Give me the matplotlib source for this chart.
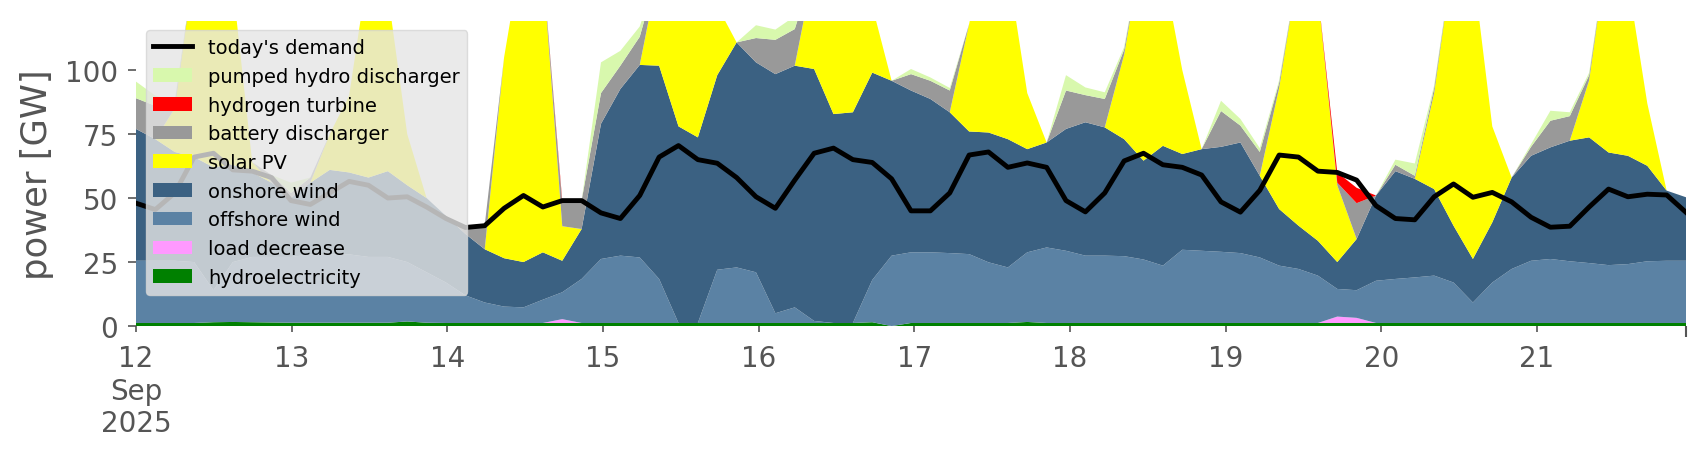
import matplotlib.pyplot as plt
import numpy as np
import pandas as pd

# 81 snapshots, roughly every 3 hours, 12 Sep 00:00 .. 21 Sep 23:00
times = pd.date_range("2025-09-12 00:00", "2025-09-21 23:00", periods=81)

demand = [48, 45.5, 52, 66, 67.5, 61, 60.5, 58, 49, 47.5,
          52, 56.5, 55, 50, 50.5, 46.5, 42, 38.5, 39.2, 46,
          51, 46.5, 49, 49, 44.2, 42, 51, 66, 70.5, 65,
          63.6, 58, 50.5, 46, 57, 67.5, 69.5, 65, 63.9, 57.5,
          45, 45, 52, 66.8, 68, 62, 63.7, 62, 49, 44.6,
          52, 64.5, 67.5, 63, 62, 59, 48.5, 44.5, 53, 66.8,
          66, 60.5, 60, 57, 47, 42, 41.5, 50.5, 55.5, 50.3,
          52.2, 48.5, 42.5, 38.6, 39, 46.5, 53.5, 50.5, 51.5, 51.2,
          44.4]

hydro = [1.2, 1.2, 1.2, 1.2, 1.5, 1.6, 1.5, 1.4, 1.3, 1.3,
         1.3, 1.3, 1.3, 1.3, 1.8, 1.3, 1.2, 1.2, 1.2, 1.2,
         1.2, 1.2, 1.2, 1.2, 1.2, 1.2, 1.2, 1.2, 1.2, 1.2,
         1.2, 1.2, 1.2, 1.2, 1.2, 1.2, 1.2, 1.2, 1.5, 0,
         1.2, 1.2, 1.2, 1.2, 1.2, 1.2, 1.6, 1.2, 1.2, 1.2,
         1.2, 1.2, 1.2, 1.2, 1.2, 1.2, 1.2, 1.2, 1.2, 1.2,
         1.2, 1.2, 1.2, 1.2, 1.2, 1.2, 1.2, 1.2, 1.2, 1.2,
         1.2, 1.2, 1.2, 1.2, 1.2, 1.2, 1.2, 1.2, 1.2, 1.2,
         1.2]

load_decrease = [0] * 22 + [1.5] + [0] * 39 + [2.5, 2.0] + [0] * 17

offshore = [24.3, 24.3, 24.3, 23.8, 12.5, 23.4, 25.5, 25.6, 25.7, 26.7,
            26.7, 26.7, 25.7, 25.7, 23.2, 19.7, 15.8, 10.8, 8.0, 6.4,
            6.1, 9.1, 10.5, 17.2, 25.0, 26.3, 25.6, 17.2, 0, 0,
            20.8, 21.7, 19.8, 3.8, 6.1, 0.8, 0, 0, 16.5, 27.5,
            27.6, 27.6, 27.3, 26.9, 23.7, 21.7, 27.2, 29.5, 28.2, 26.3,
            26.3, 26.1, 24.8, 22.4, 28.6, 28.2, 27.8, 27.3, 25.6, 22.4,
            21.1, 18.5, 10.8, 10.8, 16.5, 17.2, 17.8, 18.5, 15.8, 8.0,
            15.8, 21.1, 24.3, 25.0, 24.1, 23.4, 22.6, 23.0, 24.1, 24.3,
            24.3]

onshore = [51.5, 47.5, 42.5, 41, 48, 38, 33, 29, 23, 28,
           33, 32, 31, 33.5, 30, 29, 26, 24, 20.8, 18.9,
           17.7, 18.5, 12.3, 19.5, 52.8, 65.1, 75.2, 83.3, 76.8, 72.5,
           76, 87.9, 82, 93.4, 94.4, 98.4, 81.6, 82.3, 81, 68.3,
           63.2, 59.9, 55, 47.9, 50.7, 50.1, 40.3, 41, 47.6, 52.1,
           50.1, 45.7, 38.6, 46.8, 37.4, 39.7, 41, 43.2, 31.9, 22.1,
           16.9, 13.6, 10.5, 20, 33.3, 42.1, 38.5, 33.8, 22.2, 17,
           23.5, 35.7, 41, 43.6, 47.1, 49.1, 44, 42.3, 37.3, 27.4,
           24.8]

solar = [0, 0, 17, 74, 88, 70, 4, 0, 0, 0,
         14, 30, 82, 69.5, 20, 0, 0, 0, 0, 78.5,
         125, 111.2, 13.5, 0, 0, 0, 0, 38.3, 72, 71.3,
         27, 0, 0, 0, 0, 39.6, 67.2, 56.5, 26, 0,
         0, 0, 0, 42, 79.4, 67, 21.9, 0, 0, 0,
         0, 33, 85.4, 69.6, 32.8, 0, 0, 0, 0, 47.3,
         100.8, 96.7, 30, 0, 0, 0, 0, 37.5, 105.8, 113.8,
         37.5, 0, 0, 0, 0, 22.3, 82.2, 68.5, 24.4, 0,
         0]

battery = [12, 13, 2, 0, 0, 0, 0, 3, 2, 2,
           0, 0, 0, 0, 0, 0, 0, 2.5, 9.5, 0,
           0, 0, 9, 11.1, 12, 9.1, 11, 0, 0, 0,
           0, 0, 9.5, 13.4, 14.3, 0, 0, 0, 0, 0,
           6.4, 7.1, 8.5, 0, 0, 0, 0, 0, 15, 10.6,
           11.1, 2, 0, 0, 0, 0, 14, 6.6, 9.3, 2,
           0, 0, 1, 14, 0, 2.5, 1.2, 2, 0, 0,
           0, 0, 3.5, 10.4, 9.6, 2, 0, 0, 0, 0,
           0]

hydrogen = [0] * 22 + [1] + [0] * 39 + [4, 6] + [0] * 17

pumped_hydro = [6.5, 4, 1, 0, 0, 0, 0, 0, 4, 0,
                0, 0, 0, 0, 0, 0, 0, 0, 0, 0,
                0, 0, 0, 0, 12, 5.8, 4, 0, 0, 0,
                0, 0, 5, 4, 5, 0, 0, 0, 0, 0,
                2, 1.3, 1, 0, 0, 0, 0, 0, 6, 3,
                2.6, 1, 0, 0, 0, 0, 4, 2.6, 1.5, 1,
                0, 0, 0, 0, 0, 2, 4.8, 1, 0, 0,
                0, 0, 1, 3.9, 1.5, 1, 0, 0, 0, 0,
                0]

carriers = ["hydroelectricity", "load decrease", "offshore wind", "onshore wind",
            "solar PV", "battery discharger", "hydrogen turbine",
            "pumped hydro discharger"]
colors = ["#008000", "#ff99ff", "#5b82a4", "#3b6182",
          "#ffff00", "#999999", "#ff0000", "#d8f8ad"]

grey = "#555555"

fig, ax = plt.subplots(figsize=(17.06, 4.6), dpi=100)
fig.subplots_adjust(left=0.0797, right=0.9883, bottom=0.289, top=0.953)

ax.stackplot(times, hydro, load_decrease, offshore, onshore, solar, battery,
             hydrogen, pumped_hydro, colors=colors, labels=carriers, linewidth=0)
ax.plot(times, demand, color="black", lw=3.5, label="today's demand")

ax.set_xlim(times[0], times[-1])
ax.set_ylim(0, 119.3)

days = pd.date_range("2025-09-12", "2025-09-21", freq="D")
ax.set_xticks(days)
ax.set_xticklabels(["12\nSep\n2025"] + [str(d.day) for d in days[1:]])
ax.set_xticks([times[-1]], minor=True)
ax.set_yticks([0, 25, 50, 75, 100])

for s in ax.spines.values():
    s.set_visible(False)
ax.tick_params(axis="both", labelsize=20, colors=grey, labelcolor=grey, width=1.2)
ax.tick_params(axis="y", length=6, pad=7)
ax.tick_params(axis="x", which="major", length=4, pad=9)
ax.tick_params(axis="x", which="minor", length=8, width=1.5, color=grey)
ax.set_ylabel("power [GW]", fontsize=25.5, color=grey, labelpad=8)

handles, labels = ax.get_legend_handles_labels()
order = [8, 7, 6, 5, 4, 3, 2, 1, 0]
leg = ax.legend([handles[i] for i in order], [labels[i] for i in order],
                loc="upper left", fontsize=14.0, labelspacing=0.5,
                facecolor="#e5e5e5", edgecolor="#d5d5d5", framealpha=0.8)

plt.savefig("out.png", dpi=100)
